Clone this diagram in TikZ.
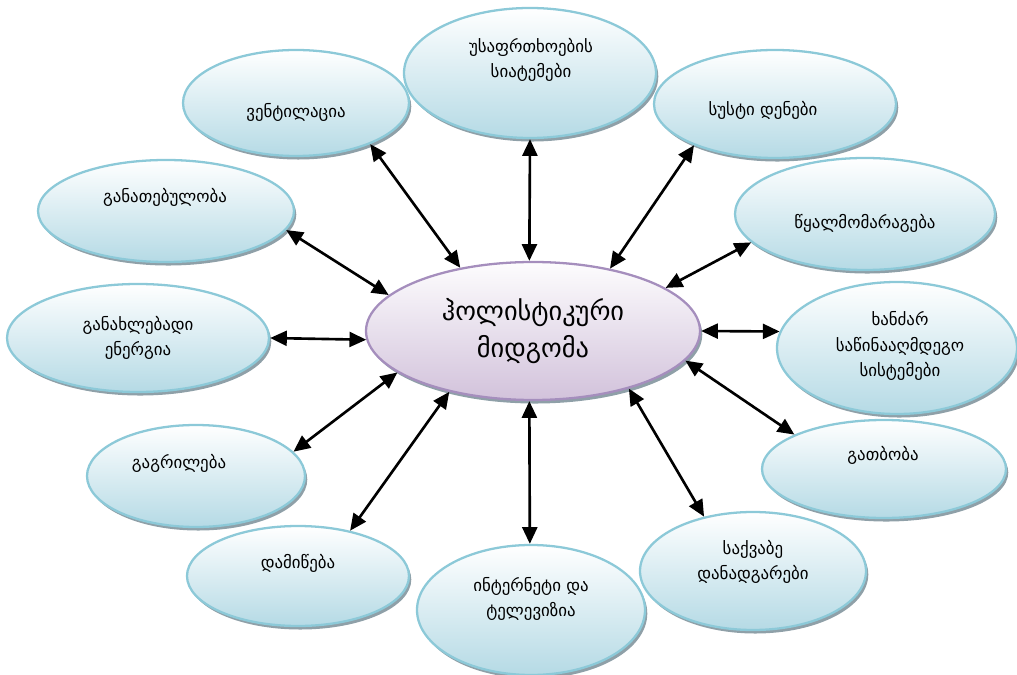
\documentclass[tikz,border=0pt]{standalone}
\usepackage{fontspec}
\setmainfont{DejaVu Sans}
\usetikzlibrary{shapes.geometric,arrows.meta,shadows}
\definecolor{bubbleline}{HTML}{8CC9D8}
\definecolor{bubblefill}{HTML}{B5DAE5}
\definecolor{hubline}{HTML}{A58EBD}
\definecolor{hubfill}{HTML}{D2C2DB}
\definecolor{shade}{HTML}{8FA0A8}

\begin{document}
\begin{tikzpicture}[x=0.02cm,y=-0.02cm,
  bubble/.style 2 args={ellipse, draw=bubbleline, line width=1.3pt,
    top color=white, bottom color=bubblefill,
    minimum width=#1*0.02cm, minimum height=#2*0.02cm, inner sep=0pt,
    drop shadow={shadow xshift=1.3pt, shadow yshift=-2pt, fill=shade, opacity=1}},
  hub/.style 2 args={bubble={#1}{#2}, draw=hubline, top color=white!96!hubfill, bottom color=hubfill},
  txt/.style={align=center, font=\fontsize{9.6}{14.5}\selectfont},
  hubtxt/.style={align=center, font=\fontsize{15}{21.5}\selectfont},
  arr/.style={{Triangle[length=9.5pt,width=8.5pt]}-{Triangle[length=9.5pt,width=8.5pt]}, line width=1.5pt}]
  \useasboundingbox (0,0) rectangle (1017,675);
  % outer bubbles
  \node[bubble={252}{130}] (safe)  at (530,73)  {};
  \node[bubble={226}{106}] (vent)  at (296,103) {};
  \node[bubble={242}{108}] (weak)  at (775,104) {};
  \node[bubble={256}{102}] (light) at (166,211) {};
  \node[bubble={260}{112}] (water) at (865,214) {};
  \node[bubble={262}{108}] (renew) at (138,338) {};
  \node[bubble={240}{132}] (fire)  at (897,348) {};
  \node[bubble={218}{102}] (cool)  at (196,476) {};
  \node[bubble={244}{98}]  (heat)  at (884,469) {};
  \node[bubble={222}{100}] (earth) at (298,576) {};
  \node[bubble={228}{130}] (net)   at (531,610) {};
  \node[bubble={226}{118}] (boil)  at (753,571) {};
  % centre
  \node[hub={334}{138}] (hol) at (533,331) {};
  % texts
  \node[hubtxt] (hol-t)   at (533,331) {ჰოლისტიკური\\მიდგომა};
  \node[txt]    (safe-t)  at (531,60)  {უსაფრთხოების\\სიატემები};
  \node[txt]    (vent-t)  at (296,112) {ვენტილაცია};
  \node[txt]    (weak-t)  at (763,110) {სუსტი დენები};
  \node[txt]    (light-t) at (165,197) {განათებულობა};
  \node[txt]    (water-t) at (865,223) {წყალმომარაგება};
  \node[txt]    (renew-t) at (138,338) {განახლებადი\\ენერგია};
  \node[txt]    (fire-t)  at (900,346) {ხანძარ\\საწინააღმდეგო\\სისტემები};
  \node[txt]    (cool-t)  at (179,463) {გაგრილება};
  \node[txt]    (heat-t)  at (883,455) {გათბობა};
  \node[txt]    (earth-t) at (298,563) {დამიწება};
  \node[txt]    (net-t)   at (531,599) {ინტერნეტი და\\ტელევიზია};
  \node[txt]    (boil-t)  at (753,562) {საქვაბე\\დანადგარები};
  % connectors
  \draw[arr] (hol.139.7) -- (vent.-29.8);
  \draw[arr] (hol.93.3)  -- (safe.-90.9);
  \draw[arr] (hol.39.7)  -- (weak.-153.2);
  \draw[arr] (hol.18.4)  -- (water.-166.7);
  \draw[arr] (hol.-0.7)  -- (fire.172.8);
  \draw[arr] (hol.-11.8) -- (heat.159.5);
  \draw[arr] (hol.-31.3) -- (boil.132.4);
  \draw[arr] (hol.-93.5) -- (net.91.8);
  \draw[arr] (hol.-144.3) -- (earth.41.9);
  \draw[arr] (hol.-163.1) -- (cool.14.8);
  \draw[arr] (hol.-177.6) -- (renew.0);
  \draw[arr] (hol.166.9) -- (light.-9);
\end{tikzpicture}
\end{document}
